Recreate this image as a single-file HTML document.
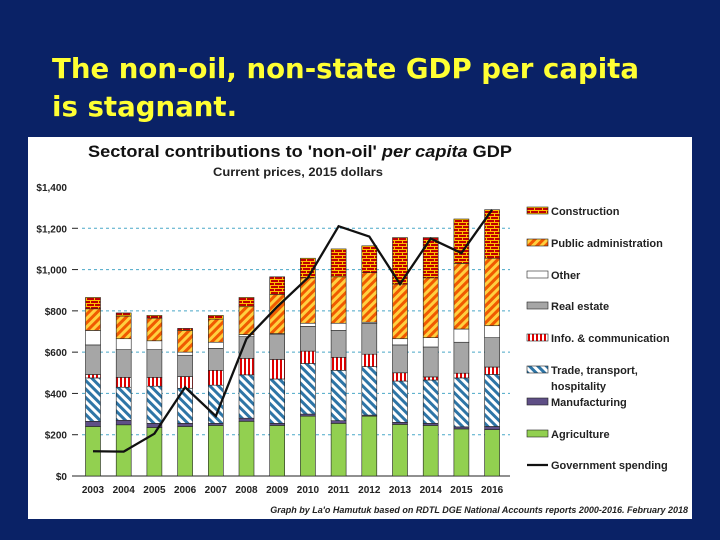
<!DOCTYPE html>
<html><head><meta charset="utf-8"><style>
html,body{margin:0;padding:0;width:720px;height:540px;overflow:hidden;background:#0a2266;}
#title{position:absolute;left:52px;top:50px;color:#ffff33;font:bold 27.6px "DejaVu Sans",sans-serif;line-height:38px;}
svg{position:absolute;left:0;top:0;}
</style></head><body>
<div id="title">The non-oil, non-state GDP per capita<br>is stagnant.</div>
<svg id="chart" width="720" height="540" font-family="Liberation Sans, sans-serif">
<defs>
<pattern id="pConstr" width="8" height="6" patternUnits="userSpaceOnUse"><rect width="8" height="6" fill="#c00000"/><rect x="0" y="0" width="8" height="1" fill="#ffc000"/><rect x="0" y="3" width="8" height="1" fill="#ffc000"/><rect x="2" y="0" width="1" height="3" fill="#ffc000"/><rect x="6" y="3" width="1" height="3" fill="#ffc000"/></pattern>
<pattern id="pPub" width="6" height="6" patternUnits="userSpaceOnUse" patternTransform="rotate(45)"><rect width="6" height="6" fill="#ffd040"/><rect width="3" height="6" fill="#f05a00"/></pattern>
<pattern id="pInfo" width="4" height="4" patternUnits="userSpaceOnUse"><rect width="4" height="4" fill="#fff"/><rect width="2" height="4" fill="#e00000"/></pattern>
<pattern id="pTrade" width="6" height="6" patternUnits="userSpaceOnUse" patternTransform="rotate(-45)"><rect width="6" height="6" fill="#fff"/><rect width="3" height="6" fill="#2e75a6"/></pattern>
</defs>
<rect x="28" y="137" width="664" height="382" fill="#fff"/>
<text x="88" y="157" textLength="424" lengthAdjust="spacingAndGlyphs" font-size="17" font-weight="bold" fill="#111">Sectoral contributions to 'non-oil' <tspan font-style="italic">per capita</tspan> GDP</text>
<text x="213" y="176" textLength="170" lengthAdjust="spacingAndGlyphs" font-size="12" font-weight="bold" fill="#222">Current prices, 2015 dollars</text>
<text x="688" y="513" text-anchor="end" font-size="9" font-style="italic" font-weight="bold" fill="#222">Graph by La'o Hamutuk based on RDTL DGE National Accounts reports 2000-2016.  February 2018</text>
<g id="grid"></g><g id="bars"></g><g id="line"></g><g id="legend"></g>
</svg>
<script>
const years=["2003","2004","2005","2006","2007","2008","2009","2010","2011","2012","2013","2014","2015","2016"];
const yTicks=[0,200,400,600,800,1000,1200,1400];
const tickLabels=["$0","$200","$400","$600","$800","$1,000","$1,200","$1,400"];
const agriculture=[240,248,235,240,245,265,245,290,255,290,250,245,228,225];
const manufacturing=[25,22,20,15,10,15,10,10,13,5,10,10,10,15];
const trade=[210,160,180,170,185,210,215,245,244,235,200,210,237,252];
const info=[17,48,43,57,72,80,95,60,63,60,40,15,23,36];
const realEstate=[143,134,134,103,106,105,120,120,130,150,135,145,150,142];
const other=[70,53,43,15,30,10,5,15,35,5,30,45,64,58];
const publicAdmin=[105,110,110,105,112,135,190,220,225,240,265,290,318,327];
const construction=[55,15,13,10,18,45,85,95,135,130,225,195,215,235];
const govSpending=[120,118,205,430,290,665,820,960,1210,1160,930,1150,1080,1290];
const series=[
 {name:"agriculture",vals:agriculture,fill:"#92d050"},
 {name:"manufacturing",vals:manufacturing,fill:"#5f4f86"},
 {name:"trade",vals:trade,fill:"url(#pTrade)"},
 {name:"info",vals:info,fill:"url(#pInfo)"},
 {name:"real-estate",vals:realEstate,fill:"#a6a6a6"},
 {name:"other",vals:other,fill:"#ffffff"},
 {name:"public-admin",vals:publicAdmin,fill:"url(#pPub)"},
 {name:"construction",vals:construction,fill:"url(#pConstr)"}];
const NS="http://www.w3.org/2000/svg";
const y0=476,pxPer=(476-187)/1400;
function yS(v){return y0-v*pxPer;}
function xS(i){return 93+i*30.7;}
function mk(tag,attrs,parent){const e=document.createElementNS(NS,tag);for(const k in attrs)e.setAttribute(k,attrs[k]);parent.appendChild(e);return e;}
const grid=document.getElementById('grid');
yTicks.forEach((t,i)=>{
 const y=yS(t);
 if(t>0&&t<1400){const l=mk('line',{x1:82,x2:510,y1:y,y2:y,stroke:'#4aa8c8','stroke-width':1,'stroke-dasharray':'3,3'},grid);
 
 }
 const tk=mk('text',{x:67,y:y+4,'text-anchor':'end','font-size':10,'font-weight':'bold',fill:'#222'},grid);tk.textContent=tickLabels[i];
 
 
 if(t<1400){const m=mk('line',{x1:72,x2:78,y1:y,y2:y,stroke:'#222'},grid);
 
 }
});
const ax=mk('line',{x1:78,x2:510,y1:y0,y2:y0,stroke:'#222','stroke-width':1},grid);


const bars=document.getElementById('bars');
years.forEach((yr,i)=>{
 let cum=0;const cx=xS(i);
 series.forEach(s=>{
  const v=s.vals[i];const top=cum+v;
  const r=mk('rect',{x:cx-7.5,y:yS(top),width:15,height:yS(cum)-yS(top),fill:s.fill,stroke:'#222','stroke-width':0.6},bars);
  
  
  cum=top;
 });
 const lb=mk('text',{x:cx,y:493,'text-anchor':'middle','font-size':10,'font-weight':'bold',fill:'#222'},bars);lb.textContent=yr;
 
 
});
const pts=govSpending.map((v,i)=>xS(i)+','+yS(v)).join(' ');
const pl=mk('polyline',{points:pts,fill:'none',stroke:'#111','stroke-width':2.3},document.getElementById('line'));


const leg=document.getElementById('legend');
const legItems=[["Construction","url(#pConstr)",211],["Public administration","url(#pPub)",243],["Other","#fff",275],["Real estate","#a6a6a6",306],["Info. & communication","url(#pInfo)",338],["Trade, transport,","url(#pTrade)",370],["Manufacturing","#5f4f86",402],["Agriculture","#92d050",434]];
legItems.forEach(it=>{
 const g=mk('g',{},leg);
 
 
 mk('rect',{x:527,y:it[2]-4,width:21,height:7,fill:it[1],stroke:'#222','stroke-width':0.6},g);
 const t=mk('text',{x:551,y:it[2]+4,'font-size':11,'font-weight':'bold',fill:'#222'},g);t.textContent=it[0];
});
const h=mk('text',{x:551,y:390,'font-size':11,'font-weight':'bold',fill:'#222'},leg);h.textContent="hospitality";


const gl=mk('g',{},leg);


mk('line',{x1:527,x2:548,y1:465,y2:465,stroke:'#111','stroke-width':2.3},gl);
const gt=mk('text',{x:551,y:469,'font-size':11,'font-weight':'bold',fill:'#222'},gl);gt.textContent="Government spending";
</script>
</body></html>
